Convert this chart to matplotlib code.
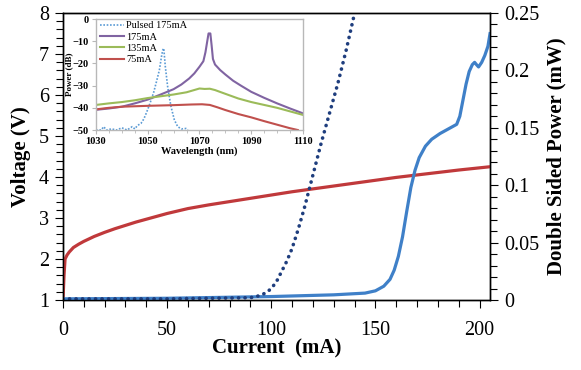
import matplotlib.pyplot as plt
from matplotlib.ticker import MultipleLocator

plt.rcParams['font.family'] = ['Liberation Serif', 'DejaVu Serif']

# main chart: voltage (left axis)
v_current = [0, 0.5, 1, 2, 3, 5, 7.5, 10, 12.5, 15, 20, 25, 30, 35, 40, 45, 50, 60, 70, 80,
             90, 100, 110, 120, 130, 140, 150, 160, 170, 180, 190, 205]
voltage = [1.0, 1.6, 2.0, 2.1, 2.17, 2.28, 2.36, 2.43, 2.49, 2.55, 2.65, 2.74, 2.82, 2.9, 2.97, 3.04,
           3.11, 3.23, 3.32, 3.40, 3.48, 3.56, 3.64, 3.71, 3.78, 3.85, 3.92, 3.99, 4.05, 4.11, 4.17, 4.25]

# CW power (right axis)
p_current = [0, 50, 100, 130, 145, 150, 154, 157, 159, 161, 163, 165, 167, 169, 171, 174, 177, 181,
             185, 189, 190.5, 192, 193.5, 195, 196.5, 197.6, 198.5, 199.5, 201, 202.5, 204, 205]
power = [0.001, 0.0015, 0.003, 0.0045, 0.006, 0.008, 0.012, 0.018, 0.026, 0.038, 0.055, 0.077, 0.098,
         0.113, 0.124, 0.134, 0.14, 0.145, 0.149, 0.153, 0.16, 0.174, 0.188, 0.199, 0.205, 0.207,
         0.205, 0.203, 0.207, 0.213, 0.221, 0.232]

# pulsed power (right axis)
pp_current = [0, 50, 90, 95, 98, 100, 102.5, 105, 107.5, 110, 113, 116, 120, 124, 128, 132, 136, 140]
pulsed_power = [0.001, 0.001, 0.002, 0.004, 0.007, 0.01, 0.016, 0.025, 0.034, 0.045, 0.062, 0.081,
                0.109, 0.137, 0.163, 0.189, 0.218, 0.25]

# inset spectra
wl_pulsed = [1030, 1032, 1033, 1034, 1036, 1038, 1040, 1042, 1044, 1045, 1046, 1047.4, 1048.5, 1049.4,
             1050.4, 1051.3, 1052.3, 1053.2, 1054.5, 1055.3, 1055.8, 1056.2, 1056.8, 1057.7, 1058.4,
             1059, 1060.3, 1061.6, 1063, 1064.8, 1065.5]
pw_pulsed = [-50, -50, -48.5, -50, -49.5, -50, -49, -50, -48.5, -49.5, -48, -47, -45, -42.5,
             -39.5, -36.5, -33, -29, -23, -17, -14, -13.2, -21.5, -30.5, -35.5,
             -39.5, -45.5, -48.5, -49.5, -49.3, -50]
wl_175 = [1030, 1035, 1040, 1045, 1050, 1055, 1060, 1063, 1066, 1068, 1070, 1071.5, 1072.3, 1073,
          1073.5, 1074.2, 1074.7, 1075.2, 1076, 1078, 1080, 1083, 1086, 1090, 1095, 1100, 1105, 1110]
pw_175 = [-40.9, -40.3, -39.5, -38, -36.3, -34, -31.6, -29.5, -26.8, -24.5, -21.5, -19, -15, -10,
          -6.5, -6.5, -12, -18, -20.5, -23, -25, -27.8, -30, -32.8, -35.5, -38, -40.3, -42.5]
wl_135 = [1030, 1035, 1040, 1045, 1050, 1055, 1060, 1065, 1070, 1072, 1074, 1076, 1080, 1085, 1090,
          1095, 1100, 1105, 1110]
pw_135 = [-38.7, -38, -37.4, -36.6, -35.6, -34.8, -34, -33, -31.3, -31.5, -31.4, -32, -33.7, -35.8,
          -37.4, -38.7, -40, -41.6, -43.2]
wl_75 = [1030, 1035, 1040, 1050, 1060, 1067, 1071, 1074, 1077, 1080, 1085, 1090, 1095, 1100, 1105, 1108]
pw_75 = [-40.7, -40, -39.5, -39.1, -38.8, -38.5, -38.4, -38.7, -39.8, -41, -42.8, -44.3, -46, -47.6,
         -49.2, -50]

fig = plt.figure(figsize=(5.81, 3.70), dpi=100)
ax = fig.add_axes([0.1084, 0.1892, 0.735, 0.7757])
ax2 = ax.twinx()

ax.plot(v_current, voltage, color='#c0393b', lw=2.3, zorder=3)
ax2.plot(p_current, power, color='#3f80c8', lw=2.3)
ax2.plot(pp_current, pulsed_power, color='#1f3e7e', lw=2.6,
         linestyle=(0, (0.05, 1.75)), dash_capstyle='round')

ax.set_xlim(0, 205)
ax.set_ylim(1, 8)
ax2.set_ylim(0, 0.25)
ax.xaxis.set_major_locator(MultipleLocator(50))
ax.xaxis.set_minor_locator(MultipleLocator(10))
ax.yaxis.set_major_locator(MultipleLocator(1))
ax.yaxis.set_minor_locator(MultipleLocator(0.2))
ax2.yaxis.set_minor_locator(MultipleLocator(0.01))
ax2.set_yticks([0, 0.05, 0.1, 0.15, 0.2, 0.25])
ax2.set_yticklabels(['0', '0.05', '0.1', '0.15', '0.2', '0.25'])

for a in (ax, ax2):
    a.tick_params(which='major', length=6, width=0.8, labelsize=14.5, direction='out', pad=4)
    a.tick_params(which='minor', length=5, width=0.8, direction='out')
    for s in a.spines.values():
        s.set_linewidth(1)
ax.tick_params(axis='x', which='major', pad=9)

ax.set_xlabel('Current  (mA)', fontsize=15, fontweight='bold', labelpad=-1)
ax.set_ylabel('Voltage (V)', fontsize=15, fontweight='bold', labelpad=6)
ax2.set_ylabel('Double Sided Power (mW)', fontsize=15, fontweight='bold', labelpad=5)

# inset
ins = fig.add_axes([0.1652, 0.6486, 0.3563, 0.3], facecolor='white')
ins.plot(wl_pulsed, pw_pulsed, color='#5b9bd5', lw=1.2, linestyle=(0, (1, 1)), label='Pulsed 175mA')
ins.plot(wl_175, pw_175, color='#8064a2', lw=1.5, label='175mA')
ins.plot(wl_135, pw_135, color='#9bbb59', lw=1.5, label='135mA')
ins.plot(wl_75, pw_75, color='#c0504d', lw=1.5, label='75mA')
ins.set_xlim(1030, 1110)
ins.set_ylim(-50, 0)
ins.set_xticks([1030, 1050, 1070, 1090, 1110])
ins.xaxis.set_minor_locator(MultipleLocator(5))
ins.set_yticks([0, -10, -20, -30, -40, -50])
for s in ins.spines.values():
    s.set_color('#b8b8b8')
    s.set_linewidth(1)
ins.tick_params(which='major', length=3, color='#b8b8b8', labelsize=7.5, pad=2)
ins.tick_params(which='minor', length=2, color='#b8b8b8')
for lab in ins.get_xticklabels() + ins.get_yticklabels():
    lab.set_fontweight('bold')
ins.set_xlabel('Wavelength (nm)', fontsize=7.5, fontweight='bold', labelpad=0)
ins.set_ylabel('Power (dB)', fontsize=6.5, fontweight='bold', labelpad=0)
leg = ins.legend(loc='upper left', frameon=False, fontsize=7.5, handlelength=2.3,
                 handletextpad=0.2, labelspacing=0.2, borderaxespad=0.0,
                 bbox_to_anchor=(0.0, 1.02))

fig.savefig('out.png', dpi=100)
